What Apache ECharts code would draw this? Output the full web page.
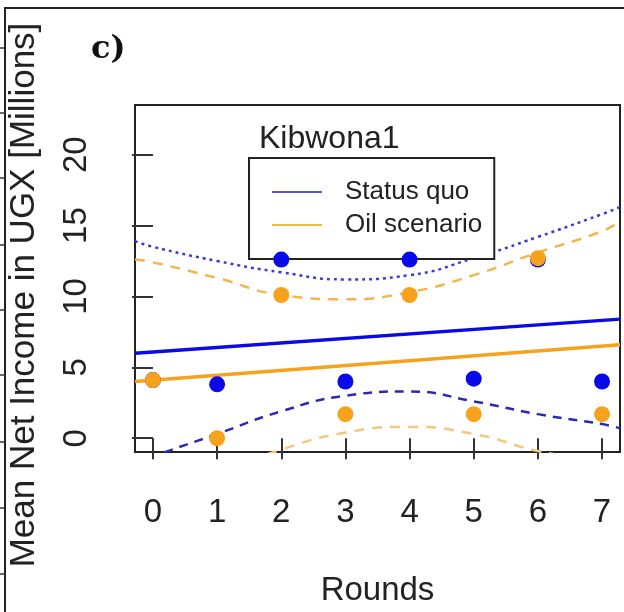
<!DOCTYPE html>
<html>
<head>
<meta charset="utf-8">
<script src="https://cdn.jsdelivr.net/npm/echarts@6/dist/echarts.min.js"></script>
<style>
  html, body { margin: 0; padding: 0; background: #fff; }
  #chart { width: 624px; height: 612px; }
</style>
</head>
<body>
<div id="chart"></div>
<script>
// rounds and mean incomes (UGX millions) per round
const rounds = [0, 1, 2, 3, 4, 5, 6, 7]
const statusQuoPts = [4.1, 3.8, 12.6, 4.0, 12.6, 4.2, 12.6, 4.0]
const oilPts = [4.1, 0.0, 10.1, 1.7, 10.1, 1.7, 12.7, 1.7]

// fitted trend lines, read at the two edges of the plot box
const fitX = [-0.28, 7.28]
const statusQuoFit = [6.0, 8.4]
const oilFit = [4.0, 6.6]

// confidence bands, read at the box edges and every round
const bandX = [-0.28, 0, 1, 2, 3, 4, 5, 6, 7, 7.28]
const statusQuoUpper = [13.9, 13.5, 12.5, 11.7, 11.2, 11.5, 12.7, 14.2, 15.8, 16.3]
const statusQuoLower = [-1.9, -1.3, 0.3, 1.9, 3.0, 3.3, 2.6, 1.7, 1.0, 0.7]
const oilUpper = [12.6, 12.4, 11.3, 10.1, 9.8, 10.3, 11.5, 13.1, 14.6, 15.3]
const oilLower = [-5.0, -4.2, -2.5, -0.8, 0.4, 0.8, 0.3, -0.9, -1.7, -2.2]

const xTicks = [0, 1, 2, 3, 4, 5, 6, 7]
const yTicks = [0, 5, 10, 15, 20]

const BLUE = '#0a0ae8'
const ORANGE = '#f6a21c'
const FONT = 'Liberation Sans, Arial, sans-serif'

const zip = (xs, ys) => xs.map((x, i) => [x, ys[i]])

const chart = echarts.init(document.getElementById('chart'))

const axisCommon = {
  type: 'value',
  splitLine: { show: false },
  axisLine: { show: false },
  axisTick: { show: true, inside: false, length: 21, lineStyle: { color: '#333', width: 2 } },
  axisLabel: { color: '#222', fontFamily: FONT, fontSize: 33 },
  nameTextStyle: { color: '#222', fontFamily: FONT, fontSize: 33 },
}

const bandLine = (data, color, type, width) => ({
  type: 'line',
  data,
  smooth: true,
  symbol: 'none',
  silent: true,
  lineStyle: { color, type, width },
  z: 2,
})

// stray tick marks of the neighbouring panel, left of the outer frame
const frameTicks = [48, 113, 178, 245, 310, 375, 442, 508, 574].map((y) => ({
  type: 'line',
  shape: { x1: 0, y1: y, x2: 5, y2: y },
  style: { stroke: '#333', lineWidth: 1.5 },
  silent: true,
}))

chart.setOption({
  backgroundColor: '#fff',
  animation: false,
  title: [
    {
      text: 'c)',
      left: 86,
      top: 29,
      textStyle: { fontFamily: 'DejaVu Serif, serif', fontWeight: 'bold', fontSize: 32, color: '#111' },
    },
    {
      text: 'Kibwona1',
      left: 254,
      top: 118,
      textStyle: { fontFamily: FONT, fontWeight: 'normal', fontSize: 32, color: '#222' },
    },
  ],
  legend: {
    data: [
      { name: 'Status quo', itemStyle: { color: '#5a50e6' } },
      { name: 'Oil scenario', itemStyle: { color: '#f0bc3c' } },
    ],
    orient: 'vertical',
    left: 249,
    top: 158,
    width: 249,
    icon: 'rect',
    itemWidth: 50,
    itemHeight: 2,
    itemGap: 7,
    padding: [21, 12, 21, 23],
    borderColor: '#222',
    borderWidth: 2,
    backgroundColor: '#fff',
    selectedMode: false,
    textStyle: { fontFamily: FONT, fontSize: 26, color: '#222', padding: [0, 0, 0, 18] },
  },
  grid: {
    left: 135,
    top: 105,
    width: 485,
    height: 352,
    show: true,
    borderColor: '#222',
    borderWidth: 2,
    backgroundColor: 'transparent',
  },
  xAxis: {
    ...axisCommon,
    min: -0.28,
    max: 7.28,
    axisTick: { ...axisCommon.axisTick, customValues: xTicks },
    axisLabel: { ...axisCommon.axisLabel, customValues: xTicks, margin: 44 },
    name: 'Rounds',
    nameLocation: 'middle',
    nameGap: 122,
  },
  yAxis: {
    ...axisCommon,
    min: -0.97,
    max: 23.5,
    axisTick: { ...axisCommon.axisTick, customValues: yTicks },
    axisLabel: { ...axisCommon.axisLabel, customValues: yTicks, rotate: 90, margin: 42 },
  },
  graphic: [
    {
      type: 'polyline',
      shape: { points: [[5, 612], [5, 8], [624, 8]] },
      style: { stroke: '#222', lineWidth: 2, fill: null },
      silent: true,
    },
    ...frameTicks,
    {
      type: 'text',
      x: 24,
      y: 295,
      rotation: Math.PI / 2,
      silent: true,
      style: {
        text: 'Mean Net Income in UGX [Millions]',
        font: '35px "Liberation Sans", Arial, sans-serif',
        fill: '#222',
        align: 'center',
        verticalAlign: 'middle',
      },
    },
  ],
  series: [
    bandLine(zip(bandX, statusQuoUpper), '#3b3bd6', [3, 4], 2.5),
    bandLine(zip(bandX, statusQuoLower), '#2a2aae', [9, 7], 2.5),
    bandLine(zip(bandX, oilUpper), '#f3b64e', [10, 8], 2.5),
    bandLine(zip(bandX, oilLower), '#f4c77e', [10, 8], 2.5),
    {
      name: 'Status quo',
      type: 'line',
      data: zip(fitX, statusQuoFit),
      symbol: 'none',
      lineStyle: { color: BLUE, width: 3.5 },
      itemStyle: { color: BLUE },
      z: 3,
    },
    {
      name: 'Oil scenario',
      type: 'line',
      data: zip(fitX, oilFit),
      symbol: 'none',
      lineStyle: { color: ORANGE, width: 3.5 },
      itemStyle: { color: ORANGE },
      z: 3,
    },
    {
      name: 'Status quo points',
      type: 'scatter',
      data: zip(rounds, statusQuoPts),
      symbolSize: 16,
      itemStyle: { color: BLUE, opacity: 1 },
      z: 4,
    },
    {
      name: 'Oil scenario points',
      type: 'scatter',
      data: zip(rounds, oilPts),
      symbolSize: 16,
      itemStyle: { color: ORANGE, opacity: 1 },
      z: 5,
    },
  ],
})

window.addEventListener('resize', () => chart.resize())
</script>
</body>
</html>
